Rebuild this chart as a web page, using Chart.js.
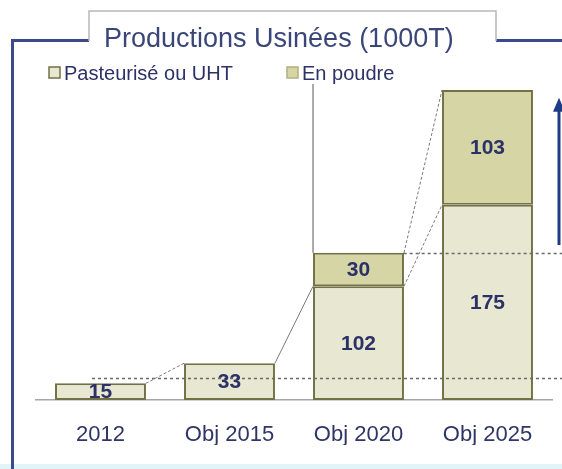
<!DOCTYPE html>
<html><head><meta charset="utf-8">
<script src="https://cdn.jsdelivr.net/npm/chart.js@4.4.0/dist/chart.umd.min.js"></script>
<style>html,body{margin:0;padding:0;background:#fff;overflow:hidden}canvas{display:block}</style>
</head><body>
<canvas id="c" width="562" height="469"></canvas>
<script>
const categories = ['2012', 'Obj 2015', 'Obj 2020', 'Obj 2025'];
const seriesNames = ['Pasteurisé ou UHT', 'En poudre'];
const pasteurise = [15, 33, 102, 175];
const poudre = [null, null, 30, 103];
const chartTitle = 'Productions Usinées (1000T)';
const referenceLevels = [20, 132];
const referenceStarts = [-0.066, 2.35];
const arrowRange = [139, 271];

const FONT = "'Liberation Sans', Arial, sans-serif";
const fills = ['#e7e7d2', '#d5d5a6'];
const borderCol = '#727246';
const textNavy = '#2c3166';

const framePlugin = {
  id: 'frame',
  beforeDraw(chart) {
    const ctx = chart.ctx;
    ctx.save();
    ctx.fillStyle = '#ffffff';
    ctx.fillRect(0, 0, chart.width, chart.height);
    ctx.fillStyle = '#e2f4f8';
    ctx.fillRect(0, 464, chart.width, chart.height - 464);
    ctx.fillStyle = '#3c4a8c';
    ctx.fillRect(11, 40, 3, chart.height - 40);
    ctx.fillRect(11, 39, 78, 3);
    ctx.fillRect(496, 39, chart.width - 496, 3);
    ctx.fillStyle = '#ffffff';
    ctx.fillRect(89, 11, 407, 31);
    ctx.strokeStyle = '#b8b8b8';
    ctx.lineWidth = 1.5;
    ctx.beginPath();
    ctx.moveTo(89, 41); ctx.lineTo(89, 11); ctx.lineTo(496, 11); ctx.lineTo(496, 41);
    ctx.stroke();
    ctx.fillStyle = '#3a4678';
    ctx.font = '27px ' + FONT;
    ctx.textBaseline = 'alphabetic';
    ctx.textAlign = 'left';
    ctx.fillText(chartTitle, 104, 47);
    const legendX = [49, 287];
    ctx.font = '20px ' + FONT;
    ctx.textBaseline = 'middle';
    chart.data.datasets.forEach((ds, i) => {
      const x = legendX[i];
      ctx.fillStyle = ds.backgroundColor;
      ctx.fillRect(x, 67, 11, 11);
      ctx.strokeStyle = i === 0 ? borderCol : '#b0b080';
      ctx.lineWidth = 1.5;
      ctx.strokeRect(x, 67, 11, 11);
      ctx.fillStyle = textNavy;
      ctx.fillText(ds.label, x + 15, 74);
    });
    ctx.restore();
  },
  afterDatasetsDraw(chart) {
    const ctx = chart.ctx;
    const xs = chart.scales.x, ys = chart.scales.y;
    const m0 = chart.getDatasetMeta(0).data;
    const m1 = chart.getDatasetMeta(1).data;
    const L = el => el.x - el.width / 2;
    const R = el => el.x + el.width / 2;
    ctx.save();
    ctx.strokeStyle = '#7a7a7a';
    ctx.lineWidth = 1;
    const seg = (x1, y1, x2, y2, dash) => {
      ctx.setLineDash(dash);
      ctx.beginPath(); ctx.moveTo(x1, y1); ctx.lineTo(x2, y2); ctx.stroke();
    };
    seg(R(m0[0]), m0[0].y, L(m0[1]), m0[1].y, [3, 2]);
    seg(R(m0[1]), m0[1].y, L(m0[2]), m0[2].y, []);
    seg(R(m1[2]), m1[2].y, L(m1[3]), m1[3].y, [3, 2]);
    seg(R(m0[2]), m0[2].y, L(m0[3]), m0[3].y, [3, 2]);
    ctx.strokeStyle = '#555555';
    seg(L(m1[2]), 84, L(m1[2]), m1[2].y, []);
    ctx.strokeStyle = '#6a6a6a';
    ctx.lineWidth = 1.5;
    referenceLevels.forEach((v, i) => {
      const y = Math.round(ys.getPixelForValue(v)) + 0.5;
      seg(xs.getPixelForValue(referenceStarts[i]), y, chart.width, y, [3, 3]);
    });
    ctx.setLineDash([]);
    ctx.fillStyle = textNavy;
    ctx.font = 'bold 21px ' + FONT;
    ctx.textAlign = 'center';
    ctx.textBaseline = 'middle';
    chart.data.datasets.forEach((ds, di) => {
      chart.getDatasetMeta(di).data.forEach((el, j) => {
        const v = ds.data[j];
        if (v === null || v === undefined) return;
        ctx.fillText(String(v), el.x, (el.y + el.base) / 2 + 1);
      });
    });
    const ay0 = ys.getPixelForValue(arrowRange[0]);
    const ay1 = ys.getPixelForValue(arrowRange[1]);
    const ax = 559;
    ctx.strokeStyle = '#1f3b86';
    ctx.fillStyle = '#1f3b86';
    ctx.lineWidth = 3;
    ctx.beginPath(); ctx.moveTo(ax, ay0); ctx.lineTo(ax, ay1 + 10); ctx.stroke();
    ctx.beginPath(); ctx.moveTo(ax, ay1); ctx.lineTo(ax - 6, ay1 + 14); ctx.lineTo(ax + 6, ay1 + 14); ctx.closePath(); ctx.fill();
    ctx.restore();
  }
};

new Chart(document.getElementById('c'), {
  type: 'bar',
  data: {
    labels: categories,
    datasets: [
      { label: seriesNames[0], data: pasteurise, backgroundColor: fills[0] },
      { label: seriesNames[1], data: poudre, backgroundColor: fills[1] }
    ]
  },
  options: {
    responsive: false,
    animation: false,
    devicePixelRatio: 1,
    layout: { padding: { left: 36, right: 10, top: 90, bottom: 24 } },
    datasets: {
      bar: {
        borderColor: borderCol,
        borderWidth: 2,
        borderSkipped: false,
        barPercentage: 1,
        categoryPercentage: 0.705
      }
    },
    plugins: { legend: { display: false }, title: { display: false }, tooltip: { enabled: false } },
    scales: {
      x: {
        stacked: true,
        grid: { display: false, drawTicks: false },
        border: { display: true, color: '#a6a6a6', width: 1.5 },
        ticks: { color: '#2f3566', font: { family: FONT, size: 22 }, padding: 22 },
        afterFit(scale) { scale.height = 45; }
      },
      y: { stacked: true, display: false, min: 0, max: 278 }
    }
  },
  plugins: [framePlugin]
});
</script>
</body></html>
